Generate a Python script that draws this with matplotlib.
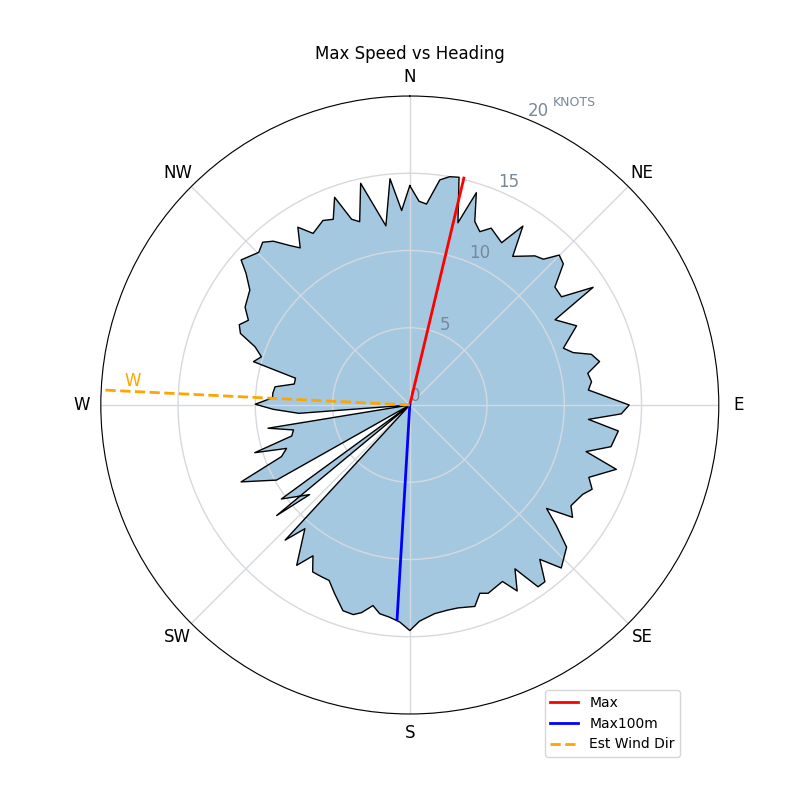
import numpy as np
import matplotlib
matplotlib.use("Agg")
from matplotlib import pyplot as plt

# heading (deg) and max speed (knots), in drawing order
headings = [0, 2.6, 4.75, 7.6, 9.9, 12.2, 14.8, 17.4, 19.5, 22.0, 24.7, 29.5, 32.3, 34.7,
            40.0, 42.5, 44.9, 47.4, 50.9, 54.5, 57.3, 59.6, 64.6, 69.7, 72.2, 74.4, 77.1,
            79.9, 82.7, 85.2, 90.0, 92.4, 94.6, 97.1, 101.7, 104.8, 107.3, 112.0, 114.8,
            117.3, 122.0, 124.6, 127.1, 129.5, 132.2, 137.1, 139.9, 142.6, 144.8, 147.3,
            150.0, 152.3, 157.4, 159.6, 162.1, 166.6, 169.5, 173.2, 177.4, 180.0, 182.6,
            185.4, 188.2, 190.4, 193.1, 195.1, 198.0, 201.7, 204.7, 207.1, 210.2, 212.7,
            215.2, 220.3, 222.7, 226.5, 230.3, 228.2, 233.8, 237.5, 240.6, 245.5, 248.1,
            250.6, 252.9, 255.3, 257.9, 260.7, 262.8, 265.7, 268.2, 270.3, 273.0, 274.9,
            277.7, 280.3, 283.2, 285.5, 288.0, 290.6, 292.9, 295.2, 297.7, 300.7, 305.7,
            308.8, 310.7, 315.3, 317.9, 320.2, 323.1, 325.1, 327.8, 330.6, 334.8, 337.6,
            340.1, 342.6, 344.7, 347.5, 352.4, 355.0, 357.6]
speeds = [14.2, 13.2, 13.05, 14.7, 15.0, 15.08, 12.2, 14.4, 12.6, 12.1, 12.6, 12.07, 13.7, 11.7,
          12.6, 12.8, 13.7, 13.5, 12.1, 12.06, 14.1, 10.9, 11.95, 10.6, 11.1, 12.2, 12.6,
          11.7, 11.86, 11.6, 14.2, 13.7, 11.6, 13.6, 13.3, 11.8, 14.0, 12.5, 13.0,
          12.6, 12.3, 12.8, 11.1, 12.3, 13.7, 14.4, 13.06, 14.4, 14.4, 12.6,
          13.9, 12.9, 13.2, 13.0, 13.7, 13.5, 13.5, 13.6, 14.0, 14.6, 14.07,
          13.8, 13.65, 13.2, 13.8, 14.05, 14.0, 13.15, 12.5, 12.5, 12.5, 11.6,
          12.7, 10.5, 11.9, 0, 11.2, 8.7, 10.3, 0, 9.9, 12.0, 8.95,
          8.46, 10.5, 7.9, 7.7, 9.3, 0, 7.2, 8.85, 10.0, 8.9, 8.9,
          8.8, 7.6, 7.6, 10.5, 10.1, 10.7, 11.9, 12.2, 11.8, 12.4, 12.75,
          13.6, 14.4, 13.9, 14.2, 13.8, 12.9, 12.4, 13.6, 12.75, 13.2, 13.0,
          14.3, 12.6, 12.3, 14.7, 11.7, 14.7, 12.6]

max_dir, max_speed = 13.4, 15.1
max100_dir, max100_speed = 183.4, 13.9
wind_dir = 272.8

dir_labels = ["N", "NE", "E", "SE", "S", "SW", "W", "NW"]

fig = plt.figure(figsize=(8, 8), dpi=100)
ax = fig.add_axes([0.126, 0.1075, 0.7725, 0.7725], projection="polar")
ax.set_theta_zero_location("N")
ax.set_theta_direction(-1)

th = np.radians(headings)
# fill sits under the grid (grid zorder 1.5) so the grid shows through
ax.fill(th, speeds, color="#1f77b4", alpha=0.4, lw=0, zorder=1)
ax.plot(np.append(th, th[0]), speeds + [speeds[0]], color="black", lw=1, zorder=3)

ax.plot([np.radians(max_dir)] * 2, [0, max_speed], color="red", lw=2, label="Max", zorder=4)
ax.plot([np.radians(max100_dir)] * 2, [0, max100_speed], color="blue", lw=2, label="Max100m", zorder=4)
ax.plot([np.radians(wind_dir)] * 2, [0, 20], color="orange", lw=2, ls="--", label="Est Wind Dir", zorder=4)
ax.text(np.radians(275), 18.0, "W", color="orange", fontsize=12, ha="center", va="center")

ax.set_ylim(0, 20)
ax.set_yticks([0, 5, 10, 15, 20])
ax.set_yticklabels(["0", "5", "10", "15", "20"], color="#778899", fontsize=12)
ax.set_xticks(np.radians(np.arange(0, 360, 45)))
ax.set_xticklabels(dir_labels, fontsize=12)
ax.grid(color="#d5d9de", lw=1)
ax.text(np.radians(28.6), 22.3, "KNOTS", color="#778899", fontsize=9, ha="center", va="center")

ax.set_title("Max Speed vs Heading", fontsize=12, y=1.046)
fig.legend(loc="lower right", bbox_to_anchor=(0.859, 0.045), fontsize=10)

plt.savefig("out.png")
